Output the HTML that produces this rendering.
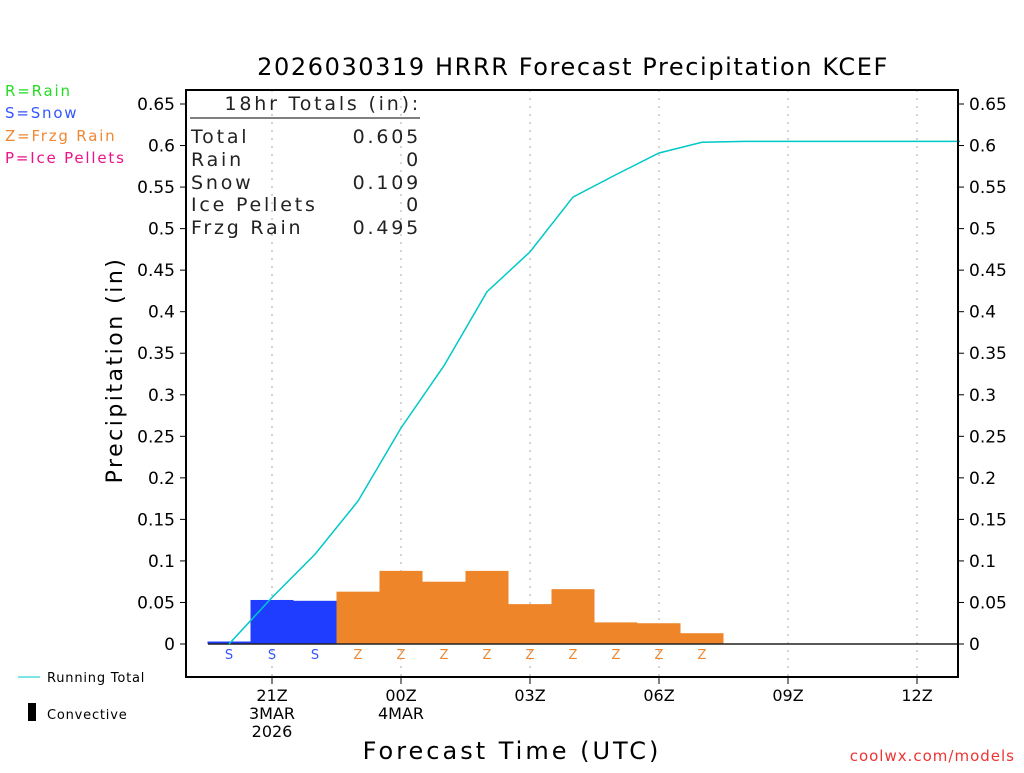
<!DOCTYPE html>
<html><head><meta charset="utf-8"><style>
body{margin:0;background:#fff;width:1024px;height:768px;overflow:hidden}
svg text{font-family:"DejaVu Sans","Liberation Sans",sans-serif}
</style></head><body>
<svg id="c" width="1024" height="768" xmlns="http://www.w3.org/2000/svg">
<text x="573" y="75" font-size="24" letter-spacing="1.6" text-anchor="middle">2026030319 HRRR Forecast Precipitation KCEF</text>
<g font-size="15" letter-spacing="1.8">
<text x="5" y="96" fill="#22dd22">R=Rain</text>
<text x="5" y="118" fill="#3355ff">S=Snow</text>
<text x="5" y="141" fill="#ee8833">Z=Frzg Rain</text>
<text x="5" y="163" fill="#ee1188">P=Ice Pellets</text>
</g>
<text transform="translate(122,370) rotate(-90)" font-size="22" letter-spacing="2.5" text-anchor="middle">Precipitation (in)</text>
<text x="512" y="759" font-size="24" letter-spacing="3" text-anchor="middle">Forecast Time (UTC)</text>
<text x="1015" y="761" font-size="15" letter-spacing="1" fill="#ee3333" text-anchor="end">coolwx.com/models</text>
<line x1="18" y1="677" x2="40" y2="677" stroke="#00c8c8"/>
<text x="47" y="682" font-size="13" letter-spacing="0.8">Running Total</text>
<rect x="28" y="703" width="8" height="18" fill="#000"/>
<text x="47" y="719" font-size="13" letter-spacing="0.8">Convective</text>
<g id="plot"></g>
<rect x="186" y="90" width="772" height="587" fill="none" stroke="#000" stroke-width="2"/>
<g font-size="19" letter-spacing="2.8" fill="#222">
<text x="421" y="110" text-anchor="end">18hr Totals (in):</text>
<line x1="190" y1="118" x2="420" y2="118" stroke="#000"/>
<text x="191" y="143">Total</text><text x="421" y="143" text-anchor="end">0.605</text>
<text x="191" y="166">Rain</text><text x="421" y="166" text-anchor="end">0</text>
<text x="191" y="189">Snow</text><text x="421" y="189" text-anchor="end">0.109</text>
<text x="191" y="211">Ice Pellets</text><text x="421" y="211" text-anchor="end">0</text>
<text x="191" y="234">Frzg Rain</text><text x="421" y="234" text-anchor="end">0.495</text>
</g>
</svg>
<script>
const hours=[20,21,22,23,24,25,26,27,28,29,30,31,32,33,34,35,36,37];
const hourly=[0.003,0.053,0.052,0.063,0.088,0.075,0.088,0.048,0.066,0.026,0.025,0.013,0,0,0,0,0,0];
const ptype=["S","S","S","Z","Z","Z","Z","Z","Z","Z","Z","Z","","","","","",""];
const running=[0,0.056,0.108,0.172,0.26,0.335,0.424,0.472,0.538,0.565,0.591,0.604,0.605,0.605,0.605,0.605,0.605,0.605];
const yTicks=[0,0.05,0.1,0.15,0.2,0.25,0.3,0.35,0.4,0.45,0.5,0.55,0.6,0.65];
const xTickHours=[21,24,27,30,33,36];
const xTickLabels=[["21Z","3MAR","2026"],["00Z","4MAR"],["03Z"],["06Z"],["09Z"],["12Z"]];
const NS="http://www.w3.org/2000/svg";
const X=h=>272+(h-21)*43;
const Y=v=>644-v*(540/0.65);
const g=document.getElementById('plot');
function mk(t,a,txt){const e=document.createElementNS(NS,t);for(const k in a)e.setAttribute(k,a[k]);if(txt!==undefined)e.textContent=txt;g.appendChild(e);return e;}
xTickHours.forEach((h,i)=>{
 const l=mk('line',{x1:X(h),y1:90,x2:X(h),y2:677,stroke:'#aaa','stroke-dasharray':'2,6'});
 
 
 const t=mk('line',{x1:X(h),y1:677,x2:X(h),y2:684,stroke:'#000'});
 
 
 xTickLabels[i].forEach((s,j)=>{
  const tx=mk('text',{x:X(h),y:701+j*18,'font-size':16,'text-anchor':'middle'},s);
  
  
 });
});
yTicks.forEach(v=>{
 [[180,186,175,'end'],[958,964,969,'start']].forEach(p=>{
  const t=mk('line',{x1:p[0],y1:Y(v),x2:p[1],y2:Y(v),stroke:'#000'});
  
  
  const tx=mk('text',{x:p[2],y:Y(v)+6,'font-size':17,'text-anchor':p[3]},String(v));
  
  
 });
});
hours.forEach((h,i)=>{
 const col=ptype[i]==="S"?"#1f3dff":"#ee8529";
 if(hourly[i]>0){
  const r=mk('rect',{x:X(h)-21.5,y:Y(hourly[i]),width:43,height:Y(0)-Y(hourly[i]),fill:col});
  
  
 }
 if(ptype[i]){
  const t=mk('text',{x:X(h),y:659,'font-size':13,'text-anchor':'middle',fill:ptype[i]==="S"?"#3355ff":"#ee8833"},ptype[i]);
  
  
 }
});
const z=mk('line',{x1:208,y1:Y(0),x2:958,y2:Y(0),stroke:'#222','stroke-width':1.5});


const pts=hours.map((h,i)=>X(h)+','+Y(running[i]));
pts.push('958,'+Y(running[running.length-1]));
const pl=mk('polyline',{points:pts.join(' '),fill:'none',stroke:'#00c8c8','stroke-width':1.5});


</script>
</body></html>
